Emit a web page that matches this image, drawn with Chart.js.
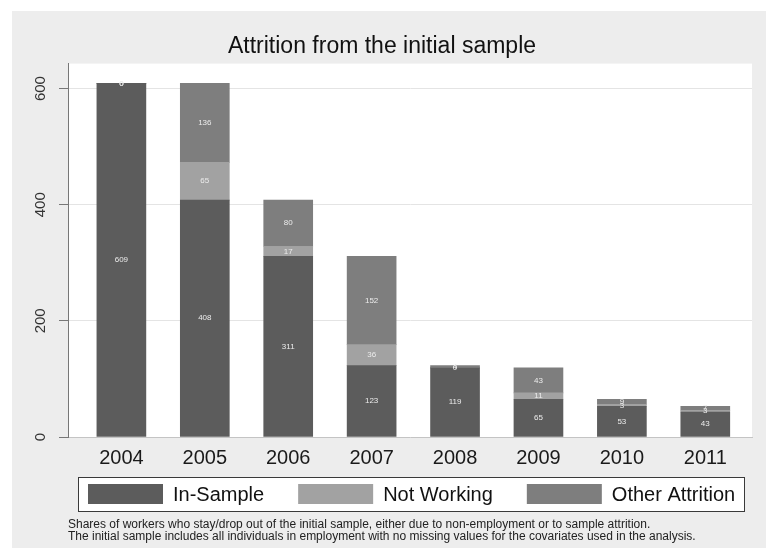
<!DOCTYPE html>
<html>
<head>
<meta charset="utf-8">
<script src="https://cdn.jsdelivr.net/npm/chart.js@4.4.0/dist/chart.umd.min.js"></script>
<style>
  html, body { margin: 0; padding: 0; background: #fff; }
  #wrap { width: 766px; height: 559px; }
</style>
</head>
<body>
<div id="wrap"><canvas id="chart" width="766" height="559"></canvas></div>
<script>
const years = [2004, 2005, 2006, 2007, 2008, 2009, 2010, 2011];
const yearLabels = ["2004", "2005", "2006", "2007", "2008", "2009", "2010", "2011"];
const inSample = [609, 408, 311, 123, 119, 65, 53, 43];
const notWorking = [0, 65, 17, 36, 0, 11, 3, 3];
const otherAttrition = [0, 136, 80, 152, 4, 43, 9, 7];
const yTicks = [0, 200, 400, 600];
const footnote = [
    "Shares of workers who stay/drop out of the initial sample, either due to non-employment or to sample attrition.",
    "The initial sample includes all individuals in employment with no missing values for the covariates used in the analysis."
];

const FONT = "'Liberation Sans', Arial, sans-serif";
Chart.defaults.font.family = FONT;
Chart.defaults.color = '#222';

const toPoints = (arr) => years.map((yr, i) => ({ x: yr, y: arr[i] }));

// gray panel and white plot region
const panelPlugin = {
    id: 'panel',
    beforeDraw(chart) {
        const { ctx, chartArea: a } = chart;
        ctx.save();
        ctx.fillStyle = '#fff';
        ctx.fillRect(0, 0, chart.width, chart.height);
        ctx.fillStyle = '#ededed';
        ctx.fillRect(12, 11, chart.width - 12, 537);
        ctx.fillStyle = '#fff';
        ctx.fillRect(a.left, a.top, a.right - a.left, a.bottom - a.top);
        ctx.restore();
    }
};

// Stata-like framed legend under the x axis
const legendBox = {
    id: 'legendBox',
    afterDraw(chart) {
        const { ctx, chartArea: a } = chart;
        const top = chart.scales.x.bottom;
        const h = 34;
        const left = a.left + 10;
        ctx.save();
        ctx.fillStyle = '#fff';
        ctx.fillRect(left, top, a.right - 7 - left, h);
        ctx.strokeStyle = '#3a3a3a';
        ctx.lineWidth = 1;
        ctx.strokeRect(left + 0.5, top + 0.5, a.right - 8 - left, h);

        ctx.font = '20px ' + FONT;
        ctx.textBaseline = 'middle';
        ctx.textAlign = 'left';
        let x = left + 10;
        const midY = top + h / 2;
        chart.data.datasets.forEach((ds) => {
            ctx.fillStyle = ds.backgroundColor;
            ctx.fillRect(x, midY - 10, 75, 20);
            x += 85;
            ctx.fillStyle = '#111';
            ctx.fillText(ds.label, x, midY + 1);
            x += ctx.measureText(ds.label).width + 34;
        });
        ctx.restore();
    }
};

// small numbers inside each bar segment
const valueLabels = {
    id: 'valueLabels',
    afterDatasetsDraw(chart) {
        const { ctx } = chart;
        ctx.save();
        ctx.font = '8px ' + FONT;
        ctx.fillStyle = '#ececec';
        ctx.textAlign = 'center';
        ctx.textBaseline = 'middle';
        chart.data.datasets.forEach((ds, i) => {
            chart.getDatasetMeta(i).data.forEach((bar, j) => {
                const { x, y, base } = bar.getProps(['x', 'y', 'base'], true);
                ctx.fillText(String(ds.data[j].y), x, (y + base) / 2);
            });
        });
        ctx.restore();
    }
};

const ctx = document.getElementById('chart').getContext('2d');
new Chart(ctx, {
    type: 'bar',
    data: {
        datasets: [
            { label: 'In-Sample', data: toPoints(inSample), backgroundColor: '#5c5c5c' },
            { label: 'Not Working', data: toPoints(notWorking), backgroundColor: '#a2a2a2' },
            { label: 'Other Attrition', data: toPoints(otherAttrition), backgroundColor: '#7e7e7e' }
        ]
    },
    options: {
        responsive: false,
        animation: false,
        datasets: { bar: { barThickness: 49 } },
        layout: { padding: { left: 12, right: 14, top: 0, bottom: 16 } },
        scales: {
            x: {
                type: 'linear',
                stacked: true,
                offset: false,
                min: 2003.36,
                max: 2011.56,
                afterBuildTicks: (s) => { s.ticks = years.map(v => ({ value: v })); },
                afterFit: (s) => { s.height = 40; },
                ticks: {
                    callback: (v, i) => yearLabels[i],
                    font: { size: 20 },
                    color: '#1a1a1a',
                    padding: 9,
                    maxRotation: 0,
                    autoSkip: false
                },
                grid: { display: false, drawTicks: false },
                border: { display: true, color: '#c4c4c4' }
            },
            y: {
                stacked: true,
                min: 0,
                max: 643,
                afterBuildTicks: (s) => { s.ticks = yTicks.map(v => ({ value: v })); },
                afterFit: (s) => { s.width = 56; },
                ticks: {
                    minRotation: 90,
                    maxRotation: 90,
                    crossAlign: 'center',
                    padding: 6,
                    font: { size: 15 },
                    color: '#333'
                },
                grid: {
                    color: (c) => (c.tick && c.tick.value === 0) ? 'rgba(0,0,0,0)' : '#e4e4e4',
                    tickColor: '#777',
                    tickLength: 9
                },
                border: { color: '#777', width: 1 }
            }
        },
        plugins: {
            title: {
                display: true,
                text: 'Attrition from the initial sample',
                font: { size: 23, weight: 'normal' },
                color: '#111',
                padding: { top: 33, bottom: 3 }
            },
            subtitle: {
                display: true,
                text: footnote,
                position: 'bottom',
                align: 'start',
                fullSize: false,
                font: { size: 12, lineHeight: 1.0 },
                color: '#222',
                padding: { top: 42, bottom: 0 }
            },
            legend: { display: false },
            tooltip: { enabled: false }
        }
    },
    plugins: [panelPlugin, legendBox, valueLabels]
});
</script>
</body>
</html>
